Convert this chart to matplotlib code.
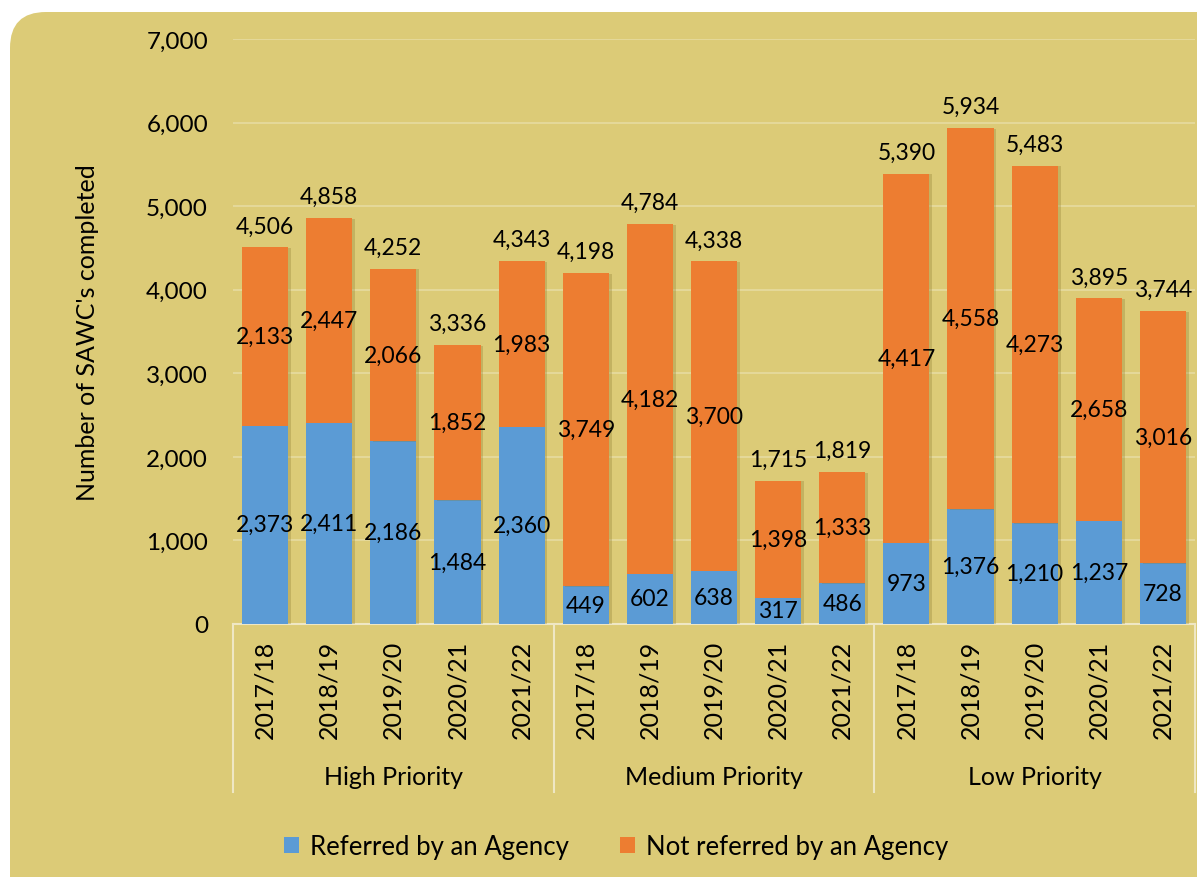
import matplotlib.pyplot as plt
import matplotlib.patheffects as pe
from matplotlib.patches import FancyBboxPatch
import matplotlib.transforms as mtrans
import numpy as np

plt.rcParams['font.family'] = ['Lato', 'DejaVu Sans']

#DATA
years = ['2017/18', '2018/19', '2019/20', '2020/21', '2021/22']
groups = ['High Priority', 'Medium Priority', 'Low Priority']
referred = [2373, 2411, 2186, 1484, 2360,
            449, 602, 638, 317, 486,
            973, 1376, 1210, 1237, 728]
not_referred = [2133, 2447, 2066, 1852, 1983,
                3749, 4182, 3700, 1398, 1333,
                4417, 4558, 4273, 2658, 3016]
yticks = [0, 1000, 2000, 3000, 4000, 5000, 6000, 7000]

#COLORS
panelcolor = '#DCCB77'
bluecolor = '#5B9BD5'
orangecolor = '#ED7D31'
gridcolor = '#E6DBA0'
linecolor = '#EFE7C4'

fig = plt.figure(figsize=(11.97, 8.78), dpi=100)
fig.patch.set_facecolor('white')

#ROUNDED PANEL
W, H = 1197, 878
panel = FancyBboxPatch((10 / W, -0.1), 1.2, (H - 13) / H + 0.1,
                       boxstyle='round,pad=0,rounding_size=0.03',
                       transform=fig.transFigure, facecolor=panelcolor,
                       edgecolor='none', mutation_aspect=W / H, zorder=-10)
fig.patches.append(panel)

ax = fig.add_axes([233 / W, 253 / H, 962 / W, 585 / H])
ax.set_facecolor('none')

x = np.arange(len(referred))
ref = np.array(referred)
notref = np.array(not_referred)
total = ref + notref

b1 = ax.bar(x, ref, width=0.72, color=bluecolor, zorder=3, label='Referred by an Agency')
b2 = ax.bar(x, notref, bottom=ref, width=0.72, color=orangecolor, zorder=3,
            label='Not referred by an Agency')

fs = 16.5
for i in range(len(x)):
    ax.text(x[i], ref[i] / 2, f'{ref[i]:,}', ha='center', va='center', fontsize=fs, zorder=5)
    ax.text(x[i], ref[i] + notref[i] / 2, f'{notref[i]:,}', ha='center', va='center',
            fontsize=fs, zorder=5)
    ax.text(x[i], total[i] + 130, f'{total[i]:,}', ha='center', va='bottom', fontsize=fs, zorder=5)

ax.set_xlim(-0.5, len(x) - 0.5)
ax.set_ylim(0, 7000)
ax.set_yticks(yticks)
ax.set_yticklabels([f'{v:,}' for v in yticks], fontsize=17.5)
ax.tick_params(axis='y', length=0, pad=18)
ax.set_xticks([])
ax.grid(axis='y', color=gridcolor, lw=1.2, zorder=1)
for s in ['left', 'right', 'top']:
    ax.spines[s].set_visible(False)
ax.spines['bottom'].set_color(linecolor)
ax.spines['bottom'].set_linewidth(1.5)

ax.set_ylabel("Number of SAWC's completed", fontsize=18, labelpad=34)

#CATEGORY AND GROUP LABELS
trans = mtrans.blended_transform_factory(ax.transData, ax.transAxes)
for i in range(len(x)):
    ax.text(x[i], -0.111, years[i % 5], rotation=90, ha='center', va='center',
            fontsize=18, transform=trans, clip_on=False)
for g in range(len(groups)):
    ax.text(g * 5 + 2, -0.2615, groups[g], ha='center', va='center', fontsize=18,
            transform=trans, clip_on=False)
for d in [-0.5, 4.5, 9.5, 14.5]:
    ax.plot([d, d], [0, -0.288], color=linecolor, lw=1.5, transform=trans, clip_on=False)

#LEGEND
ax.legend(loc='center', bbox_to_anchor=(0.398, -0.381), ncol=2, frameon=False,
          fontsize=18.5, handlelength=0.6, handleheight=0.6, columnspacing=2.0,
          handletextpad=0.4)

#SUBTLE SHADOW ON BARS (after legend so handles stay clean)
shadow = [pe.SimplePatchShadow(offset=(2, -0.5), shadow_rgbFace='#8a7a30', alpha=0.3), pe.Normal()]
for bar in list(b1) + list(b2):
    bar.set_path_effects(shadow)

fig.savefig('out.png', dpi=100, facecolor='white')
